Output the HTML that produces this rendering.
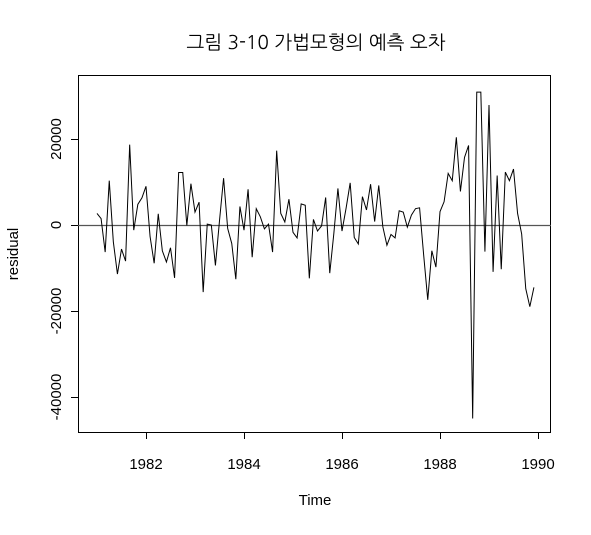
<!DOCTYPE html>
<html><head><meta charset="utf-8"><style>
html,body{margin:0;padding:0;background:#fff;}
svg text{font-family:"Liberation Sans","NanumGothic",sans-serif;fill:#000;}
</style></head><body>
<svg id="chart" width="591" height="530" viewBox="0 0 591 530" xmlns="http://www.w3.org/2000/svg">
<text x="316" y="49" font-size="19" text-anchor="middle" style="font-family:'NanumGothic','Liberation Sans',sans-serif">그림 3-10 가법모형의 예측 오차</text>
<rect x="78.5" y="75.5" width="472" height="357" fill="none" stroke="#000"/>
<g id="xaxis"></g>
<g id="yaxis"></g>
<line id="zero" x1="78" x2="551" stroke="#555" stroke-width="1.2"/>
<polyline id="series" fill="none" stroke="#000" stroke-width="1"/>
<text x="315" y="505" font-size="15" text-anchor="middle">Time</text>
<text x="18" y="254" font-size="15" text-anchor="middle" transform="rotate(-90 18 254)">residual</text>
</svg>
<script>
const startYear = 1981;
const monthsPerYear = 12;
const residuals = [2700,1500,-6300,10300,-3900,-11400,-5600,-8400,18700,-1200,4800,6300,
9000,-2700,-8900,2600,-6000,-8600,-5300,-12300,12200,12200,-100,9600,
3000,5300,-15600,200,0,-9400,1000,10900,-800,-4300,-12600,4300,
-1200,8300,-7500,3800,1900,-900,200,-6300,17300,2700,700,6000,
-1700,-3000,4900,4600,-12400,1300,-1400,-200,6400,-11200,-2000,8500,
-1400,3900,9800,-2900,-4400,6600,3500,9500,800,9200,-400,-4700,
-2200,-3000,3300,3000,-500,2300,3800,4000,-7000,-17400,-6000,-9800,
3100,5400,12000,10300,20400,7800,15700,18500,-45000,30900,30900,-6200,
27900,-10900,11500,-10300,12300,10300,13000,2700,-2100,-14800,-19000,-14500];
const xTicks = [1982,1984,1986,1988,1990];
const yTicks = [20000,0,-20000,-40000];
const yTickLabels = ["20000","0","-20000","-40000"];
const NS="http://www.w3.org/2000/svg";
function xs(t){return 146+(t-1982)*49;}
function ys(v){return 225-v*0.0043;}
const svg=document.getElementById('chart');
const xa=document.getElementById('xaxis'), ya=document.getElementById('yaxis');
function mk(tag,attrs,parent){const e=document.createElementNS(NS,tag);for(const k in attrs)e.setAttribute(k,attrs[k]);parent.appendChild(e);return e;}
mk('line',{x1:xs(xTicks[0]),x2:xs(xTicks[xTicks.length-1]),y1:432.5,y2:432.5,stroke:'#000'},xa);
xTicks.forEach(t=>{
  const l=mk('line',{x1:xs(t)+0.5,x2:xs(t)+0.5,y1:432,y2:439,stroke:'#000'},xa);
  
  
  const tx=mk('text',{x:xs(t),y:469,'font-size':15,'text-anchor':'middle'},xa);
  tx.textContent=t;
  
  
});
mk('line',{x1:78.5,x2:78.5,y1:ys(yTicks[0]),y2:ys(yTicks[yTicks.length-1]),stroke:'#000'},ya);
yTicks.forEach((v,i)=>{
  const y=ys(v);
  const l=mk('line',{x1:71,x2:78,y1:y+0.5,y2:y+0.5,stroke:'#000'},ya);
  
  
  const tx=mk('text',{x:61,y:y,'font-size':15,'text-anchor':'middle',transform:'rotate(-90 61 '+y+')'},ya);
  tx.textContent=yTickLabels[i];
  
  
});
const z=document.getElementById('zero');
z.setAttribute('y1',ys(0)+0.5);z.setAttribute('y2',ys(0)+0.5);
document.getElementById('series').setAttribute('points',
  residuals.map((v,i)=>xs(startYear+i/monthsPerYear).toFixed(2)+','+ys(v).toFixed(2)).join(' '));
</script>
</body></html>
